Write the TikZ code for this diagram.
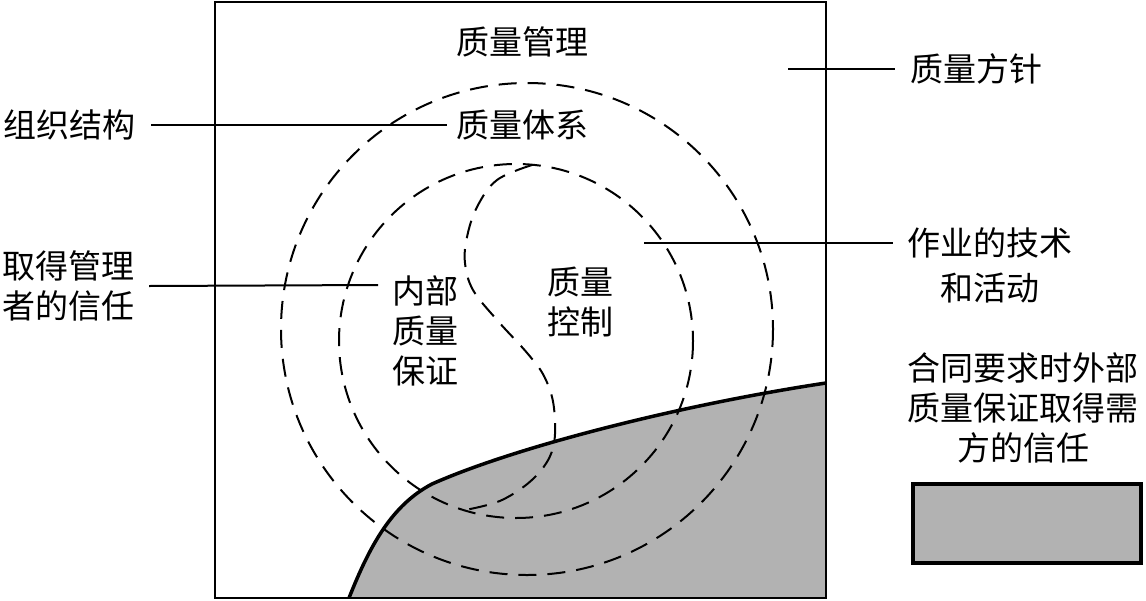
\documentclass[tikz,border=0pt]{standalone}
\usepackage{fontspec}
\newfontfamily\cjk{Noto Sans CJK SC}
\begin{document}
\begin{tikzpicture}[x=1pt,y=-1pt,
  lbl/.style={font=\cjk\fontsize{33}{40}\selectfont, inner sep=0pt, align=center},
  dashline/.style={dash pattern=on 18pt off 11pt, line width=2pt},
  conn/.style={line width=2pt},
  frame/.style={line width=2.5pt},
  boundary/.style={line width=3.5pt},
  shade/.style={fill=black!30}
]
\useasboundingbox (0,0) rectangle (1146,600);
% gray region
\fill[shade] (349,598) .. controls (370,545) and (392,505) .. (432,484)
  .. controls (515,447) and (680,405) .. (826,383) -- (826,598) -- cycle;
\draw[boundary] (349,598) .. controls (370,545) and (392,505) .. (432,484)
  .. controls (515,447) and (680,405) .. (826,383);
% dashed circles
\draw[dashline] (527,329) circle[radius=246];
\draw[dashline] (516,341) circle[radius=177];
% S curve
\draw[dashline] plot[smooth,tension=0.6] coordinates {(532,165) (497,180) (477,207) (467,237) (465,263) (473,290) (497,320) (528,354) (545,378) (554,408) (553,448) (535,477) (502,500) (465,510)};
% frame
\draw[frame] (215,2) rectangle (826,598);

% labels
\node[lbl] (gl) at (522,42) {质量管理};
\node[lbl] (tx) at (522,125) {质量体系};
\node[lbl] (zz) at (70,125) {组织结构};
\node[lbl] (qd) at (68,286) {取得管理\\者的信任};
\node[lbl] (nb) at (425,331) {内部\\质量\\保证};
\node[lbl] (kz) at (580,302) {质量\\控制};
\node[lbl] (fz) at (976,69) {质量方针};
\node[lbl] (zy) at (990,265.5) {作业的技术\\[5pt]和活动};
\node[lbl] (lt) at (1023,408) {合同要求时外部\\质量保证取得需\\方的信任};
\node[draw, line width=4pt, shade, minimum width=228pt, minimum height=79pt, inner sep=0pt] (leg) at (1027,523.5) {};

% connectors
\coordinate (fzs) at (788,69);
\coordinate (zys) at (644,243);
\coordinate (nbe) at (378,285);
\draw[conn] ([xshift=15pt]zz.east) -- ([xshift=-9pt]tx.west);
\draw[conn] ([xshift=15pt]qd.east) -- (nbe);
\draw[conn] (fzs) -- ([xshift=-15pt]fz.west);
\draw[conn] (zys) -- ([xshift=-14pt]zys -| zy.west);
\end{tikzpicture}
\end{document}
